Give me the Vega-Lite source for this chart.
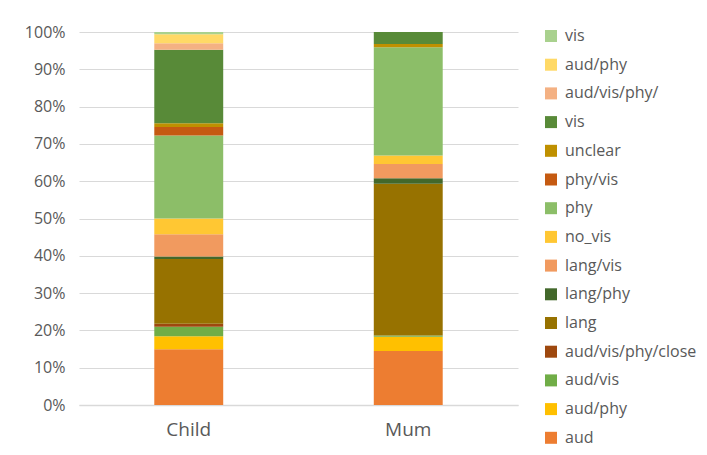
{
  "$schema": "https://vega.github.io/schema/vega-lite/v6.json",
  "width": 439,
  "height": 373,
  "padding": {"left": 24, "top": 24, "right": 5, "bottom": 5},
  "background": "white",
  "config": {
    "font": "Open Sans",
    "view": {"stroke": null}
  },
  "data": {
    "values": [
      {"who": "Child", "code": "aud", "s": 1, "pct": 15.0},
      {"who": "Child", "code": "aud/phy", "s": 2, "pct": 3.5},
      {"who": "Child", "code": "aud/vis", "s": 3, "pct": 2.5},
      {"who": "Child", "code": "aud/vis/phy/close", "s": 4, "pct": 0.8},
      {"who": "Child", "code": "lang", "s": 5, "pct": 17.4},
      {"who": "Child", "code": "lang/phy", "s": 6, "pct": 0.7},
      {"who": "Child", "code": "lang/vis", "s": 7, "pct": 6.0},
      {"who": "Child", "code": "no_vis", "s": 8, "pct": 4.2},
      {"who": "Child", "code": "phy", "s": 9, "pct": 22.3},
      {"who": "Child", "code": "phy/vis", "s": 10, "pct": 2.3},
      {"who": "Child", "code": "unclear", "s": 11, "pct": 1.0},
      {"who": "Child", "code": "vis", "s": 12, "pct": 19.7},
      {"who": "Child", "code": "aud/vis/phy/", "s": 13, "pct": 1.8},
      {"who": "Child", "code": "aud/phy ", "s": 14, "pct": 2.4},
      {"who": "Child", "code": "vis ", "s": 15, "pct": 0.6},
      {"who": "Mum", "code": "aud", "s": 1, "pct": 14.5},
      {"who": "Mum", "code": "aud/phy", "s": 2, "pct": 3.8},
      {"who": "Mum", "code": "aud/vis", "s": 3, "pct": 0.3},
      {"who": "Mum", "code": "aud/vis/phy/close", "s": 4, "pct": 0.0},
      {"who": "Mum", "code": "lang", "s": 5, "pct": 40.7},
      {"who": "Mum", "code": "lang/phy", "s": 6, "pct": 1.5},
      {"who": "Mum", "code": "lang/vis", "s": 7, "pct": 3.8},
      {"who": "Mum", "code": "no_vis", "s": 8, "pct": 2.3},
      {"who": "Mum", "code": "phy", "s": 9, "pct": 29.0},
      {"who": "Mum", "code": "phy/vis", "s": 10, "pct": 0.0},
      {"who": "Mum", "code": "unclear", "s": 11, "pct": 0.9},
      {"who": "Mum", "code": "vis", "s": 12, "pct": 3.2},
      {"who": "Mum", "code": "aud/vis/phy/", "s": 13, "pct": 0.0},
      {"who": "Mum", "code": "aud/phy ", "s": 14, "pct": 0.0},
      {"who": "Mum", "code": "vis ", "s": 15, "pct": 0.0}
    ]
  },
  "mark": {"type": "bar"},
  "encoding": {
    "x": {
      "field": "who",
      "type": "nominal",
      "sort": ["Child", "Mum"],
      "scale": {"paddingInner": 0.686, "paddingOuter": 0.343},
      "axis": {
        "title": null,
        "labelAngle": 0,
        "labelFontSize": 19,
        "labelColor": "#595959",
        "labelPadding": 15,
        "ticks": false,
        "domainColor": "#D9D9D9",
        "domainWidth": 1.5
      }
    },
    "y": {
      "field": "pct",
      "type": "quantitative",
      "stack": "normalize",
      "scale": {"domain": [0, 1]},
      "axis": {
        "title": null,
        "format": ".0%",
        "values": [0, 0.1, 0.2, 0.3, 0.4, 0.5, 0.6, 0.7, 0.8, 0.9, 1.0],
        "labelFontSize": 16,
        "labelColor": "#595959",
        "labelPadding": 14,
        "ticks": false,
        "domain": false,
        "gridColor": "#D9D9D9",
        "gridWidth": 1.2
      }
    },
    "color": {
      "field": "code",
      "type": "nominal",
      "scale": {
        "domain": ["vis ", "aud/phy ", "aud/vis/phy/", "vis", "unclear", "phy/vis", "phy", "no_vis", "lang/vis", "lang/phy", "lang", "aud/vis/phy/close", "aud/vis", "aud/phy", "aud"],
        "range": ["#A9D18E", "#FFD966", "#F4B183", "#588A38", "#BF9000", "#C55A11", "#8CBE68", "#FFC733", "#F19A5F", "#43682B", "#977200", "#9E480E", "#70AD47", "#FFC000", "#ED7D31"]
      },
      "legend": {
        "title": null,
        "orient": "none",
        "legendX": 464,
        "legendY": -4,
        "symbolType": "square",
        "symbolSize": 144,
        "symbolStrokeWidth": 0,
        "labelFontSize": 16,
        "labelColor": "#595959",
        "labelOffset": 6,
        "rowPadding": 12.7,
        "padding": 0
      }
    },
    "order": {"field": "s", "type": "quantitative", "sort": "ascending"}
  }
}
